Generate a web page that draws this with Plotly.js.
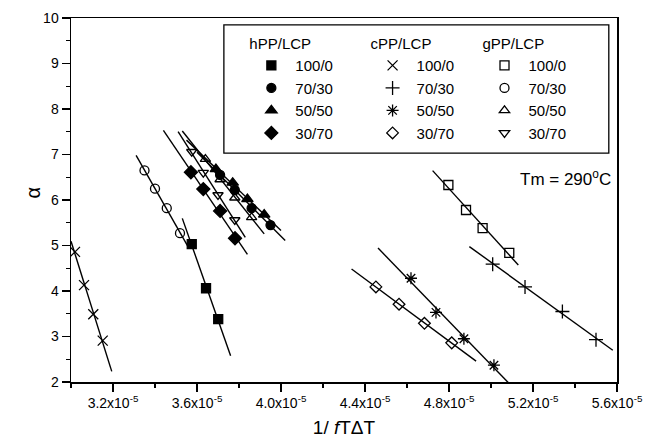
<!DOCTYPE html>
<html><head><meta charset="utf-8">
<script src="https://cdn.plot.ly/plotly-3.0.1.min.js"></script>
<style>body{margin:0;background:#fff}#chart{width:648px;height:448px}</style>
</head><body><div id="chart"></div>
<script>
// x values in units of 1e-5 (1/fTΔT), y = alpha
const blendLabels = ['100/0', '70/30', '50/50', '30/70'];
const groupTitles = ['hPP/LCP', 'cPP/LCP', 'gPP/LCP'];

// hPP/LCP
const hPP100_x = [3.575, 3.643, 3.701];           const hPP100_y = [5.03, 4.06, 3.38];
const hPP70_x  = [3.71, 3.78, 3.86, 3.95];        const hPP70_y  = [6.55, 6.22, 5.82, 5.45];
const hPP50_x  = [3.69, 3.77, 3.84, 3.92];        const hPP50_y  = [6.68, 6.38, 6.02, 5.68];
const hPP30_x  = [3.571, 3.630, 3.710, 3.781];    const hPP30_y  = [6.61, 6.24, 5.76, 5.16];
// cPP/LCP
const cPP100_x = [3.019, 3.062, 3.106, 3.151];    const cPP100_y = [4.86, 4.13, 3.49, 2.91];
const cPP70_x  = [5.008, 5.162, 5.34, 5.50];      const cPP70_y  = [4.59, 4.09, 3.55, 2.93];
const cPP50_x  = [4.619, 4.738, 4.871, 5.014];    const cPP50_y  = [4.28, 3.53, 2.95, 2.37];
const cPP30_x  = [4.452, 4.562, 4.683, 4.813];    const cPP30_y  = [4.09, 3.71, 3.29, 2.86];
// gPP/LCP
const gPP100_x = [4.797, 4.881, 4.960, 5.087];    const gPP100_y = [6.33, 5.78, 5.38, 4.84];
const gPP70_x  = [3.35, 3.40, 3.456, 3.519];      const gPP70_y  = [6.65, 6.25, 5.82, 5.27];
const gPP50_x  = [3.64, 3.71, 3.78, 3.86];        const gPP50_y  = [6.90, 6.45, 6.05, 5.62];
const gPP30_x  = [3.575, 3.63, 3.70, 3.78];       const gPP30_y  = [7.06, 6.60, 6.11, 5.56];

// x-extent of each linear fit line (units of 1e-5)
const hPP_fitRange = [[3.53, 3.76], [3.60, 4.02], [3.55, 4.00], [3.44, 3.84]];
const cPP_fitRange = [[3.0, 3.194], [4.897, 5.58], [4.462, 5.083], [4.336, 4.929]];
const gPP_fitRange = [[4.722, 5.13], [3.31, 3.56], [3.53, 3.92], [3.51, 3.83]];

const xTickVals = [3.2, 3.6, 4.0, 4.4, 4.8, 5.2, 5.6];
const xMinorVals = [3.0, 3.4, 3.8, 4.2, 4.6, 5.0, 5.4];
const xTickText = ['3.2x10<sup>-5</sup>', '3.6x10<sup>-5</sup>', '4.0x10<sup>-5</sup>', '4.4x10<sup>-5</sup>',
                   '4.8x10<sup>-5</sup>', '5.2x10<sup>-5</sup>', '5.6x10<sup>-5</sup>'];

const S = 1e-5;
const groups = [
  {legend: 'legend',  xs: [hPP100_x, hPP70_x, hPP50_x, hPP30_x], ys: [hPP100_y, hPP70_y, hPP50_y, hPP30_y],
   fit: hPP_fitRange, symbols: ['square', 'circle', 'triangle-up', 'diamond'], sizes: [9, 9, 10, 10]},
  {legend: 'legend2', xs: [cPP100_x, cPP70_x, cPP50_x, cPP30_x], ys: [cPP100_y, cPP70_y, cPP50_y, cPP30_y],
   fit: cPP_fitRange, symbols: ['x-thin-open', 'cross-thin-open', 'asterisk-open', 'diamond-open'], sizes: [10, 10, 10, 9]},
  {legend: 'legend3', xs: [gPP100_x, gPP70_x, gPP50_x, gPP30_x], ys: [gPP100_y, gPP70_y, gPP50_y, gPP30_y],
   fit: gPP_fitRange, symbols: ['square-open', 'circle-open', 'triangle-up-open', 'triangle-down-open'], sizes: [9, 9, 9, 9]}
];

function lsq(x, y) {
  const n = x.length;
  const mx = x.reduce((a, b) => a + b, 0) / n, my = y.reduce((a, b) => a + b, 0) / n;
  let sxy = 0, sxx = 0;
  for (let i = 0; i < n; i++) { sxy += (x[i] - mx) * (y[i] - my); sxx += (x[i] - mx) ** 2; }
  const b = sxy / sxx;
  return {b: b, a: my - b * mx};
}

const lineTraces = [], markerTraces = [];
groups.forEach((g, gi) => {
  g.xs.forEach((xarr, i) => {
    const f = lsq(xarr, g.ys[i]);
    const fx = g.fit[i];
    lineTraces.push({
      x: fx.map(v => v * S), y: fx.map(v => f.a + f.b * v),
      mode: 'lines', line: {color: 'black', width: 1.4}, showlegend: false, hoverinfo: 'skip'
    });
    markerTraces.push({
      x: xarr.map(v => v * S), y: g.ys[i], mode: 'markers', name: blendLabels[i], legend: g.legend,
      marker: {symbol: g.symbols[i], size: g.sizes[i], color: 'black', line: {color: 'black', width: 1.3}}
    });
  });
});

const font = 'Liberation Sans, Arial, sans-serif';
const legBase = {
  bgcolor: 'rgba(0,0,0,0)', borderwidth: 0, font: {family: font, size: 15, color: 'black'},
  yanchor: 'top', y: 0.968, xanchor: 'left', traceorder: 'normal', itemwidth: 38,
  itemclick: false, itemdoubleclick: false
};

const layout = {
  width: 648, height: 448,
  margin: {l: 71, r: 31, t: 18, b: 66},
  paper_bgcolor: 'white', plot_bgcolor: 'white',
  font: {family: font, color: 'black'},
  xaxis: {
    range: [3.0 * S, 5.6 * S], tickmode: 'array', tickvals: xTickVals.map(v => v * S), ticktext: xTickText,
    ticks: 'outside', ticklen: 8, tickwidth: 1.5, tickcolor: 'black',
    minor: {tickmode: 'array', tickvals: xMinorVals.map(v => v * S), ticks: 'outside', ticklen: 4, tickwidth: 1.3, tickcolor: 'black'},
    showline: true, linewidth: 1.5, linecolor: 'black', mirror: true, showgrid: false, zeroline: false,
    tickfont: {family: font, size: 14, color: 'black'},
    title: {text: '1/ <i>f</i>T\u0394T', font: {family: font, size: 19, color: 'black'}, standoff: 10}
  },
  yaxis: {
    range: [2, 10], tickmode: 'linear', tick0: 2, dtick: 1,
    ticks: 'outside', ticklen: 8, tickwidth: 1.5, tickcolor: 'black',
    minor: {dtick: 0.5, ticks: 'outside', ticklen: 4, tickwidth: 1.3, tickcolor: 'black'},
    showline: true, linewidth: 1.5, linecolor: 'black', mirror: true, showgrid: false, zeroline: false,
    tickfont: {family: font, size: 14, color: 'black'}
  },
  legend:  Object.assign({}, legBase, {x: 0.323, title: {text: groupTitles[0], font: {family: font, size: 15}}}),
  legend2: Object.assign({}, legBase, {x: 0.545, title: {text: groupTitles[1], font: {family: font, size: 15}}}),
  legend3: Object.assign({}, legBase, {x: 0.750, title: {text: groupTitles[2], font: {family: font, size: 15}}}),
  shapes: [{type: 'rect', xref: 'paper', yref: 'paper', x0: 0.280, x1: 0.985, y0: 0.629, y1: 0.981,
            line: {color: 'black', width: 1.3}, fillcolor: 'rgba(0,0,0,0)'}],
  annotations: [
    {xref: 'paper', yref: 'paper', x: 0.993, y: 0.560, xanchor: 'right', yanchor: 'middle',
     text: 'Tm = 290<sup>o</sup>C', showarrow: false, font: {family: font, size: 17, color: 'black'}},
    {xref: 'paper', yref: 'paper', x: -0.07, y: 0.52, xanchor: 'center', yanchor: 'middle', textangle: -90,
     text: '\u03b1', showarrow: false, font: {family: font, size: 20, color: 'black'}}
  ]
};

Plotly.newPlot('chart', lineTraces.concat(markerTraces), layout, {displayModeBar: false, staticPlot: true});
</script>
</body></html>
